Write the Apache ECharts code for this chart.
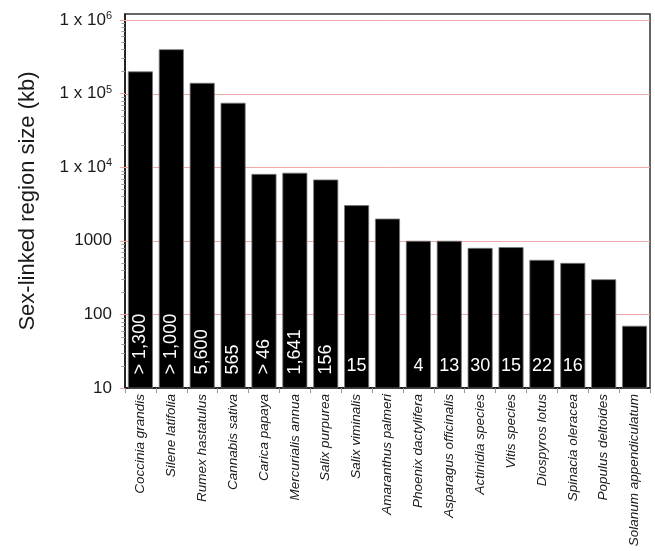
<!DOCTYPE html>
<html>
<head>
<meta charset="utf-8">
<script src="https://cdn.jsdelivr.net/npm/echarts@6/dist/echarts.min.js"></script>
<style>
  html, body { margin: 0; padding: 0; background: #fff; }
  #chart { width: 655px; height: 551px; }
</style>
</head>
<body>
<div id="chart"></div>
<script>
// Species with sex-linked regions
const species = [
  'Coccinia grandis', 'Silene latifolia', 'Rumex hastatulus', 'Cannabis sativa',
  'Carica papaya', 'Mercurialis annua', 'Salix purpurea', 'Salix viminalis',
  'Amaranthus palmeri', 'Phoenix dactylifera', 'Asparagus officinalis',
  'Actinidia species', 'Vitis species', 'Diospyros lotus', 'Spinacia oleracea',
  'Populus deltoides', 'Solanum appendiculatum'
];
// Sex-linked region size (kb)
const regionSizeKb = [
  200000, 400000, 140000, 75000,
  8100, 8400, 6800, 3050,
  2000, 1000, 1000,
  800, 820, 550, 500,
  300, 70
];
// Gene counts written inside the bars ('' = none)
const geneCounts = [
  '> 1,300', '> 1,000', '5,600', '565',
  '> 46', '1,641', '156', '15',
  '', '4', '13',
  '30', '15', '22', '16',
  '', ''
];
// Labelled decades of the size axis
const decadeTicks = [10, 100, 1000, 1e4, 1e5, 1e6];
// In-between log ticks (2..9 x 10^k)
const minorTickValues = [];
for (let k = 1; k <= 5; k++) {
  for (let m = 2; m <= 9; m++) minorTickValues.push(m * Math.pow(10, k));
}

const FONT = 'Liberation Sans, Arial, Helvetica, sans-serif';
const chart = echarts.init(document.getElementById('chart'), null, { renderer: 'canvas' });

const barData = regionSizeKb.map((v, i) => {
  const txt = geneCounts[i];
  const item = { value: v };
  if (txt.length > 2) {
    item.label = { show: true, rotate: 90, align: 'left', verticalAlign: 'middle', position: 'insideBottom', distance: 14, formatter: txt };
  } else if (txt) {
    item.label = { show: true, position: 'insideBottom', distance: 13, formatter: txt };
  }
  return item;
});

function yLabel(v) {
  const e = Math.round(Math.log10(v));
  if (Math.abs(Math.log10(v) - e) > 1e-6 || decadeTicks.indexOf(Math.pow(10, e)) < 0) return '';
  if (e >= 4) return '{m|1 x 10}{s|' + e + '}';
  return '{m|' + Math.pow(10, e) + '}';
}

chart.setOption({
  animation: false,
  backgroundColor: '#ffffff',
  grid: {
    left: 125, right: 5, top: 14, bottom: 163,
    containLabel: false,
    outerBoundsMode: 'none',
    show: true, borderColor: '#333', borderWidth: 1.5, backgroundColor: 'transparent'
  },
  xAxis: {
    type: 'category',
    data: species,
    axisLine: { lineStyle: { color: '#111', width: 1.5 } },
    axisTick: { show: true, length: 5, lineStyle: { color: '#999' } },
    axisLabel: {
      rotate: 90, interval: 0, margin: 6,
      fontFamily: FONT, fontStyle: 'italic',
      fontSize: 13.5, color: '#1a1a1a'
    },
    splitLine: { show: false }
  },
  yAxis: {
    type: 'log',
    logBase: 10,
    min: 10,
    max: 1.206e6,
    name: 'Sex-linked region size (kb)',
    nameLocation: 'middle',
    nameGap: 86,
    nameTextStyle: { fontFamily: FONT, fontSize: 22, color: '#1a1a1a' },
    axisLine: { show: true, lineStyle: { color: '#111', width: 1.5 } },
    axisTick: { show: true, length: 5, lineStyle: { color: '#f3a5a5' } },
    axisLabel: {
      margin: 13,
      formatter: yLabel,
      showMaxLabel: false,
      rich: {
        m: { fontFamily: FONT, fontSize: 17, color: '#1a1a1a' },
        s: { fontFamily: FONT, fontSize: 11, color: '#1a1a1a', verticalAlign: 'top', padding: [0, 0, 8, 0] }
      }
    },
    splitLine: { show: false }
  },
  series: [
    {
      // pink reference lines at every decade
      type: 'custom',
      silent: true,
      data: decadeTicks.slice(1).map(v => [0, v]),
      renderItem: function (params, api) {
        const y = Math.round(api.coord([0, api.value(1)])[1]) + 0.5;
        const cs = params.coordSys;
        return {
          type: 'line',
          shape: { x1: cs.x, y1: y, x2: cs.x + cs.width, y2: y },
          style: { stroke: '#f4a9a9', lineWidth: 1 }
        };
      },
      z: 1
    },
    {
      type: 'bar',
      data: barData,
      barWidth: 25,
      itemStyle: { color: '#000', borderColor: '#777', borderWidth: 0.8 },
      label: {
        show: false, color: '#fff',
        fontFamily: FONT, fontSize: 18
      },
      z: 2
    },
    {
      // minor log ticks drawn just outside the left axis
      type: 'custom',
      silent: true,
      clip: false,
      data: minorTickValues.map(v => [0, v]),
      renderItem: function (params, api) {
        const y = Math.round(api.coord([0, api.value(1)])[1]) + 0.5;
        const x0 = params.coordSys.x;
        return {
          type: 'line',
          shape: { x1: x0 - 3.5, y1: y, x2: x0, y2: y },
          style: { stroke: '#999', lineWidth: 1 }
        };
      },
      z: 5
    }
  ]
});
</script>
</body>
</html>
